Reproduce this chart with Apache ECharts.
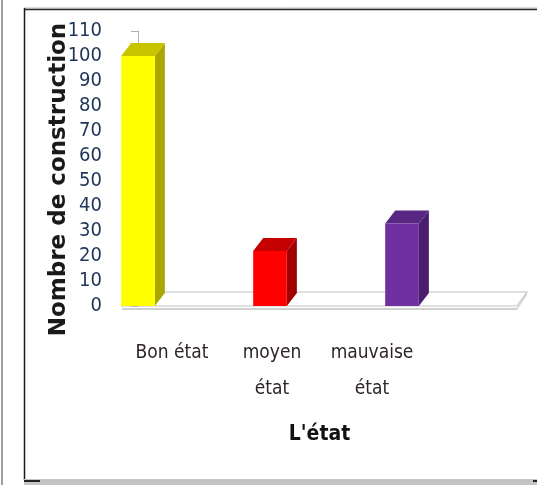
<!DOCTYPE html>
<html>
<head>
<meta charset="utf-8">
<style>
  html, body { margin: 0; padding: 0; background: #fff; }
  #chart { width: 537px; height: 485px; }
</style>
<script src="https://cdn.jsdelivr.net/npm/echarts@6/dist/echarts.min.js"></script>
</head>
<body>
<div id="chart"></div>
<script>
// Building condition survey: number of constructions per state
var categories = ['Bon état', 'moyen\nétat', 'mauvaise\nétat'];
var counts = [100, 22, 33];
var yTicks = { min: 0, max: 110, interval: 10 };

// Face colours for each 3D column: front, top, side
var faceColors = [
  { front: '#ffff00', top: '#c9c400', side: '#aaa800' },
  { front: '#ff0000', top: '#c40000', side: '#a00000' },
  { front: '#7030a0', top: '#582683', side: '#4a1d6d' }
];

var narrow = '"DejaVu Sans Condensed", "Liberation Sans Narrow", sans-serif';

function renderColumn(params, api) {
  var idx = api.value(0);
  var val = api.value(1);
  var base = api.coord([idx, 0]);
  var top = api.coord([idx, val]);
  var unit = api.size([1, 0])[0];
  var w = unit * 0.255;
  var dx = unit * 0.076;
  var dy = -13;
  var x0 = base[0] - w / 2;
  var x1 = base[0] + w / 2;
  var c = faceColors[idx];
  return {
    type: 'group',
    children: [
      { type: 'polygon', shape: { points: [[x1, base[1]], [x1 + dx, base[1] + dy], [x1 + dx, top[1] + dy], [x1, top[1]]] }, style: { fill: c.side } },
      { type: 'polygon', shape: { points: [[x0, top[1]], [x1, top[1]], [x1 + dx, top[1] + dy], [x0 + dx, top[1] + dy]] }, style: { fill: c.top } },
      { type: 'rect', shape: { x: x0, y: top[1], width: w, height: base[1] - top[1] }, style: { fill: c.front } }
    ]
  };
}

// Thin floor plate under the columns, spanning the plot width
function renderFloor(params, api) {
  var cs = params.coordSys;
  var y = cs.y + cs.height;
  var xL = cs.x, xR = cs.x + cs.width;
  return {
    type: 'group',
    children: [
      { type: 'polygon', shape: { points: [[xL, y + 2], [xR, y + 2], [xR + 10, y - 13], [xR + 10, y - 11], [xR, y + 4], [xL, y + 4]] }, style: { fill: '#d0d0d0' } },
      { type: 'polygon', shape: { points: [[xL, y], [xR, y], [xR + 10, y - 14], [xL + 10, y - 14]] }, style: { fill: '#ffffff', stroke: '#c4c4c4', lineWidth: 1.2 } }
    ]
  };
}

var chart = echarts.init(document.getElementById('chart'), null, { renderer: 'canvas' });

chart.setOption({
  backgroundColor: '#ffffff',
  animation: false,
  grid: [
    { left: 122, top: 31, width: 395, height: 275 },
    { left: 122, top: 31, width: 300, height: 275 }
  ],
  xAxis: [
    {
      type: 'value', gridIndex: 0, min: -0.1212, max: 2.871,
      axisLine: { show: false }, axisTick: { show: false }, axisLabel: { show: false }, splitLine: { show: false },
      name: "L'état", nameLocation: 'middle', nameGap: 118, nameMoveOverlap: false,
      nameTextStyle: { fontFamily: narrow, fontWeight: 'bold', fontSize: 21, color: '#111' }
    },
    {
      type: 'category', gridIndex: 1, data: categories,
      axisLine: { show: false }, axisTick: { show: false },
      axisLabel: { interval: 0, margin: 29, fontFamily: narrow, fontSize: 19, lineHeight: 36, color: '#2e2626' }
    }
  ],
  yAxis: [
    {
      type: 'value', gridIndex: 0, min: yTicks.min, max: yTicks.max, interval: yTicks.interval,
      axisLine: { show: true, lineStyle: { color: '#b0b0b0', width: 1 } },
      axisTick: { show: true, length: 7, lineStyle: { color: '#b0b0b0' } },
      axisLabel: { margin: 20, fontFamily: narrow, fontSize: 20, color: '#1d3559' },
      splitLine: { show: false },
      name: 'Nombre de construction', nameLocation: 'middle', nameRotate: 90, nameGap: 51, nameMoveOverlap: false,
      nameTextStyle: { fontFamily: '"DejaVu Sans", Verdana, sans-serif', fontWeight: 'bold', fontSize: 23, color: '#1a1a1a', padding: [0, 0, 0, -22] }
    },
    { type: 'value', gridIndex: 1, show: false, min: yTicks.min, max: yTicks.max }
  ],
  series: [
    {
      type: 'custom', xAxisIndex: 0, yAxisIndex: 0, renderItem: renderFloor,
      data: [[0, 0]], silent: true, clip: false, z: 1
    },
    {
      type: 'custom', xAxisIndex: 0, yAxisIndex: 0, renderItem: renderColumn,
      data: counts.map(function (v, i) { return [i, v]; }), clip: false, z: 2
    }
  ],
  graphic: [
    { type: 'rect', shape: { x: 1, y: 0, width: 2, height: 485 }, style: { fill: '#a0a0a0' }, silent: true },
    { type: 'line', shape: { x1: 24, y1: 8, x2: 537, y2: 8 }, style: { stroke: '#b8b8b8', lineWidth: 1 }, silent: true },
    { type: 'line', shape: { x1: 24, y1: 9.5, x2: 537, y2: 9.5 }, style: { stroke: '#2a2a2a', lineWidth: 1.5 }, silent: true },
    { type: 'line', shape: { x1: 24.5, y1: 8, x2: 24.5, y2: 480 }, style: { stroke: '#1a1a1a', lineWidth: 1.5 }, silent: true },
    { type: 'rect', shape: { x: 24, y: 479, width: 513, height: 6 }, style: { fill: '#c4c4c4' }, silent: true },
    { type: 'rect', shape: { x: 24, y: 480, width: 16, height: 2 }, style: { fill: '#222' }, silent: true },
    { type: 'rect', shape: { x: 533, y: 480, width: 4, height: 2 }, style: { fill: '#222' }, silent: true }
  ]
});
</script>
</body>
</html>
